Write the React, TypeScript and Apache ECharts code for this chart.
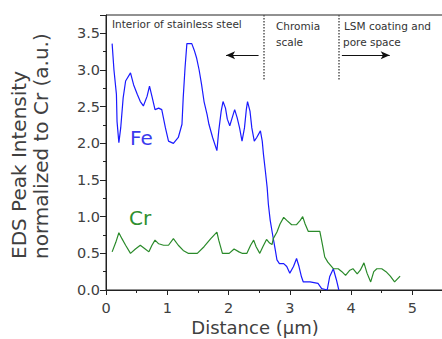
import React, { useEffect, useRef } from "react";
import * as echarts from "echarts";

// Fe profile (distance µm, intensity a.u.)
const FE_X = [0.10,0.13,0.17,0.18,0.21,0.24,0.28,0.32,0.40,0.45,0.51,0.56,0.61,0.67,0.71,0.75,0.80,0.86,0.91,0.97,1.02,1.10,1.18,1.24,1.26,1.29,1.32,1.40,1.44,1.48,1.52,1.56,1.60,1.65,1.68,1.74,1.81,1.84,1.88,1.91,1.95,1.98,2.02,2.06,2.10,2.14,2.18,2.22,2.26,2.29,2.31,2.35,2.38,2.42,2.46,2.52,2.55,2.57,2.60,2.63,2.65,2.68,2.72,2.76,2.79,2.83,2.90,2.95,3.00,3.06,3.11,3.15,3.19,3.22,3.33,3.46,3.52,3.61,3.65,3.71,3.76,3.80];
const FE_Y = [3.36,3.00,2.67,2.30,2.01,2.21,2.62,2.85,2.96,2.80,2.67,2.57,2.51,2.64,2.78,2.64,2.46,2.48,2.46,2.21,2.03,2.00,2.08,2.26,2.62,3.03,3.36,3.36,3.27,3.16,3.00,2.80,2.57,2.39,2.26,2.08,1.90,2.17,2.44,2.57,2.48,2.33,2.24,2.35,2.46,2.35,2.21,2.03,2.21,2.46,2.57,2.44,2.21,2.03,2.08,2.17,2.03,1.85,1.63,1.40,1.17,0.95,0.75,0.56,0.41,0.36,0.36,0.32,0.23,0.32,0.43,0.32,0.18,0.11,0.11,0.09,0.02,0.00,0.18,0.29,0.14,0.00];

// Cr profile
const CR_X = [0.10,0.16,0.21,0.26,0.32,0.40,0.48,0.56,0.64,0.70,0.75,0.80,0.86,0.94,1.02,1.10,1.18,1.26,1.34,1.49,1.60,1.71,1.81,1.84,1.90,2.01,2.09,2.17,2.22,2.30,2.36,2.41,2.45,2.51,2.56,2.62,2.67,2.71,2.73,2.79,2.84,2.90,2.95,3.03,3.11,3.17,3.21,3.25,3.30,3.49,3.53,3.57,3.62,3.71,3.79,3.85,3.91,3.98,4.03,4.10,4.15,4.21,4.26,4.32,4.37,4.42,4.50,4.57,4.64,4.71,4.80];
const CR_Y = [0.52,0.65,0.78,0.70,0.61,0.50,0.56,0.61,0.56,0.52,0.61,0.68,0.63,0.61,0.61,0.70,0.61,0.54,0.50,0.50,0.59,0.70,0.79,0.68,0.50,0.50,0.56,0.52,0.50,0.50,0.61,0.68,0.59,0.50,0.59,0.69,0.64,0.62,0.70,0.79,0.90,0.99,0.95,0.89,0.89,0.95,1.00,0.90,0.80,0.80,0.63,0.45,0.38,0.29,0.29,0.25,0.20,0.27,0.29,0.22,0.27,0.37,0.23,0.11,0.25,0.29,0.29,0.25,0.19,0.11,0.19];

// Region boundaries (µm) and their dotted-line vertical extent
const BOUNDARIES = [2.58, 3.80];
const BOUNDARY_Y = [3.75, 2.85];
// Arrows: [x start, x end, y]
const ARROW_LEFT = [1.96, 2.49, 3.2];
const ARROW_RIGHT = [3.85, 4.63, 3.2];

const X_MAX = 5.5;
const Y_MAX = 3.75;

const FONT = "DejaVu Sans";

export default function App() {
  const ref = useRef<HTMLDivElement>(null);
  useEffect(() => {
    if (!ref.current) return;
    const chart = echarts.init(ref.current, null, { renderer: "svg" });
    const fe = FE_X.map((x, i) => [x, FE_Y[i]]);
    const cr = CR_X.map((x, i) => [x, CR_Y[i]]);
    const dotted = { type: "dotted", color: "#555", width: 1.5 };
    const arrowStyle = { type: "solid", color: "#111", width: 1 };
    chart.setOption({
      animation: false,
      grid: {
        left: 106,
        top: 15,
        width: 340,
        height: 275,
        show: true,
        borderColor: "#222",
        borderWidth: 1,
      },
      xAxis: {
        type: "value",
        min: 0,
        max: X_MAX,
        interval: 1,
        axisLine: { show: true, lineStyle: { color: "#222", width: 1 } },
        axisTick: { show: true, inside: false, length: 5, lineStyle: { color: "#222" } },
        minorTick: { show: true, splitNumber: 2, length: 3, lineStyle: { color: "#222" } },
        splitLine: { show: false },
        axisLabel: {
          margin: 10,
          fontFamily: FONT,
          fontSize: 14.5,
          color: "#404040",
          formatter: (v: number) => (Number.isInteger(v) ? String(v) : ""),
        },
      },
      yAxis: {
        type: "value",
        min: 0,
        max: Y_MAX,
        interval: 0.5,
        axisLine: { show: true, lineStyle: { color: "#222", width: 1 } },
        axisTick: { show: true, inside: false, length: 6, lineStyle: { color: "#222" } },
        minorTick: { show: true, splitNumber: 2, length: 3, lineStyle: { color: "#222" } },
        splitLine: { show: false },
        axisLabel: {
          margin: 6,
          fontFamily: FONT,
          fontSize: 14.5,
          color: "#404040",
          formatter: (v: number) =>
            Math.abs(v / 0.5 - Math.round(v / 0.5)) < 1e-6 ? v.toFixed(1) : "",
        },
      },
      series: [
        {
          type: "line",
          name: "Fe",
          data: fe,
          showSymbol: false,
          lineStyle: { color: "#1a1aff", width: 1.2 },
          itemStyle: { color: "#1a1aff" },
          markLine: {
            silent: true,
            symbol: "none",
            label: { show: false },
            data: [
              ...BOUNDARIES.map((b) => [
                { coord: [b, BOUNDARY_Y[0]], lineStyle: dotted },
                { coord: [b, BOUNDARY_Y[1]] },
              ]),
              [
                { coord: [ARROW_LEFT[0], ARROW_LEFT[2]], symbol: "arrow", symbolSize: [6, 9], lineStyle: arrowStyle },
                { coord: [ARROW_LEFT[1], ARROW_LEFT[2]], symbol: "none" },
              ],
              [
                { coord: [ARROW_RIGHT[0], ARROW_RIGHT[2]], symbol: "none", lineStyle: arrowStyle },
                { coord: [ARROW_RIGHT[1], ARROW_RIGHT[2]], symbol: "arrow", symbolSize: [6, 9] },
              ],
            ],
          },
        },
        {
          type: "line",
          name: "Cr",
          data: cr,
          showSymbol: false,
          lineStyle: { color: "#2a8a2a", width: 1.2 },
          itemStyle: { color: "#2a8a2a" },
        },
      ],
      graphic: [
        {
          type: "text",
          x: 30,
          y: 259,
          rotation: Math.PI / 2,
          style: {
            text: "EDS Peak Intensity\nnormalized to Cr (a.u.)",
            align: "left",
            verticalAlign: "middle",
            lineHeight: 22,
            fontFamily: FONT,
            fontSize: 20,
            fill: "#404040",
          },
        },
        {
          type: "text",
          x: 255,
          y: 327,
          style: {
            text: "Distance (µm)",
            align: "center",
            verticalAlign: "middle",
            fontFamily: FONT,
            fontSize: 18,
            fill: "#404040",
          },
        },
        {
          type: "text",
          x: 112,
          y: 24,
          style: { text: "Interior of stainless steel", align: "left", verticalAlign: "middle", fontFamily: FONT, fontSize: 10.5, fill: "#333" },
        },
        {
          type: "text",
          x: 276,
          y: 26,
          style: { text: "Chromia", align: "left", verticalAlign: "middle", fontFamily: FONT, fontSize: 10.5, fill: "#333" },
        },
        {
          type: "text",
          x: 276,
          y: 42,
          style: { text: "scale", align: "left", verticalAlign: "middle", fontFamily: FONT, fontSize: 10.5, fill: "#333" },
        },
        {
          type: "text",
          x: 344,
          y: 26,
          style: { text: "LSM coating and", align: "left", verticalAlign: "middle", fontFamily: FONT, fontSize: 10.5, fill: "#333" },
        },
        {
          type: "text",
          x: 343,
          y: 42,
          style: { text: "pore space", align: "left", verticalAlign: "middle", fontFamily: FONT, fontSize: 10.5, fill: "#333" },
        },
        {
          type: "text",
          x: 130,
          y: 138,
          style: { text: "Fe", align: "left", verticalAlign: "middle", fontFamily: FONT, fontSize: 20, fill: "#3a3aee" },
        },
        {
          type: "text",
          x: 129,
          y: 218,
          style: { text: "Cr", align: "left", verticalAlign: "middle", fontFamily: FONT, fontSize: 20, fill: "#2f8f2f" },
        },
      ],
    });
    return () => chart.dispose();
  }, []);
  return (
    <div style={{ position: "fixed", left: 0, top: 0, width: 442, height: 339, overflow: "hidden", background: "#fff" }}>
      <div ref={ref} style={{ width: 446, height: 339 }} />
    </div>
  );
}
